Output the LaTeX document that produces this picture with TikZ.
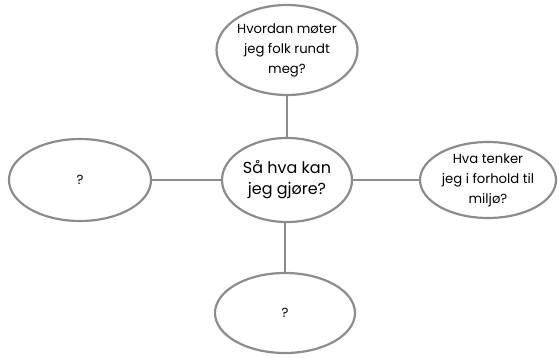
\documentclass[tikz,border=0pt]{standalone}
\usepackage{fontspec}
\setmainfont{Poppins}
\usetikzlibrary{shapes.geometric}
\definecolor{rim}{HTML}{8C8C8C}

\begin{document}
\begin{tikzpicture}[x=1pt,y=-1pt,
  every node/.style={draw=rim,line width=2.2pt,ellipse,inner sep=0pt,align=center,
    font=\fontsize{13.2}{20}\selectfont},
  big/.style={font=\fontsize{16}{21}\selectfont},
  link/.style={draw=rim,line width=2.2pt}]
\useasboundingbox (0,0) rectangle (559,358);
\node[minimum width=130pt,minimum height=84pt,big] (midt) at (287,180) {Så hva kan\\jeg gjøre?};
\node[minimum width=140pt,minimum height=90pt] (opp) at (287,50) {Hvordan møter\\jeg folk rundt\\meg?};
\node[minimum width=142pt,minimum height=82pt] (venstre) at (80,180) {?};
\node[minimum width=136pt,minimum height=76pt] (hoyre) at (488,180) {Hva tenker\\jeg i forhold til\\miljø?};
\node[minimum width=140pt,minimum height=80pt] (ned) at (285,313) {?};
\draw[link] (opp) -- (midt);
\draw[link] (venstre) -- (midt);
\draw[link] (midt) -- (hoyre);
\draw[link] (ned |- midt.south) -- (ned);
\end{tikzpicture}
\end{document}
